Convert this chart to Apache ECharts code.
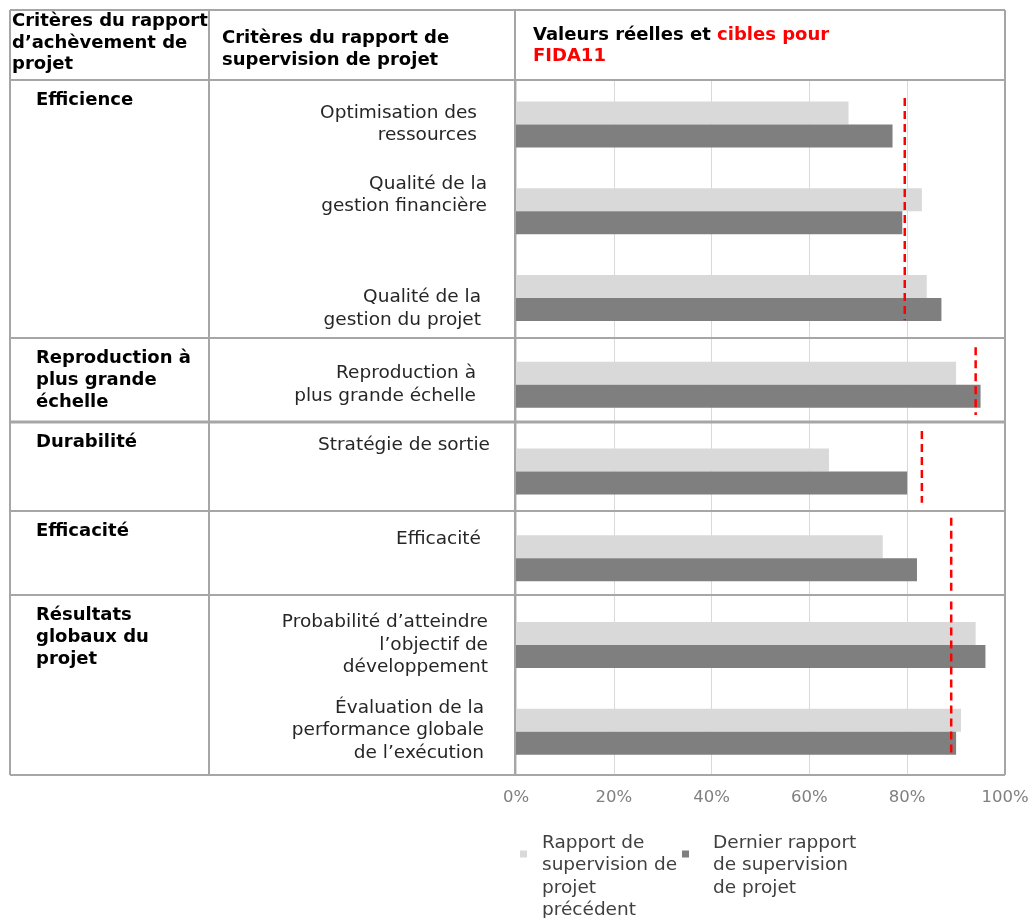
<!DOCTYPE html>
<html><head><meta charset="utf-8">
<script src="https://cdn.jsdelivr.net/npm/echarts@6/dist/echarts.min.js"></script>
<style>html,body{margin:0;padding:0;background:#fff}#c{width:1032px;height:918px}</style>
</head><body><div id="c"></div>
<script>
// ---- data ----
const categories = [
  'Optimisation des\nressources',
  'Qualité de la\ngestion financière',
  'Qualité de la\ngestion du projet',
  'Reproduction à\nplus grande échelle',
  'Stratégie de sortie',
  'Efficacité',
  'Probabilité d’atteindre\nl’objectif de\ndéveloppement',
  'Évaluation de la\nperformance globale\nde l’exécution'
];
const previousReport = [68, 83, 84, 90, 64, 75, 94, 91];
const latestReport   = [77, 79, 87, 95, 80, 82, 96, 90];
const groupNames = ['Efficience', 'Reproduction à\nplus grande\néchelle', 'Durabilité', 'Efficacité', 'Résultats\nglobaux du\nprojet'];
const groupFirst = [0, 3, 4, 5, 6];
const groupLast  = [2, 3, 4, 5, 7];
const targets    = [79.5, 94, 83, 89, 89];
const xTickStep = 20;
const seriesNames = ['Rapport de\nsupervision de\nprojet\nprécédent', 'Dernier rapport\nde supervision\nde projet'];
const headerCol1 = 'Critères du rapport\nd’achèvement de\nprojet';
const headerCol2 = 'Critères du rapport de\nsupervision de projet';
const headerCol3a = 'Valeurs réelles et ';
const headerCol3b = 'cibles pour';
const headerCol3c = 'FIDA11';

// ---- layout / style (not data) ----
const FONT = 'DejaVu Sans';
const tableCols = [10, 209, 515, 1005];
const tableRows = [10, 80, 338, 422, 511, 595, 775];
const labelPadRight = [13, 3, 9, 14, 0, 9, 2, 6];
const labelShiftY = [0, -16, 11, 0, -26, -19, 0, -1]; // vertical nudge of axis labels (px)
const targetInset = [[17, 21], [6, 13], [3, 12], [3, 6], [0, 18]];
const legendLeadLines = [2, 1];

const chart = echarts.init(document.getElementById('c'), null, {renderer: 'canvas'});

const yData = categories.map((c, i) => ({
  value: c,
  textStyle: { padding: [0, labelPadRight[i], 0, 0] }
}));

// rich spacer styles for label nudges
const labelRich = {};
labelShiftY.forEach((s, i) => {
  if (s !== 0) labelRich['s' + i] = { fontSize: 2, lineHeight: Math.abs(s) * 2, fontFamily: FONT };
});

const graphics = [];
const lineStyle = { stroke: '#a6a6a6', lineWidth: 2 };
tableCols.forEach(x => graphics.push({ type: 'line', z: 50, shape: { x1: x, y1: tableRows[0], x2: x, y2: tableRows[tableRows.length - 1] }, style: lineStyle }));
tableRows.forEach((y, i) => graphics.push({ type: 'line', z: 50, shape: { x1: tableCols[0], y1: y, x2: tableCols[tableCols.length - 1], y2: y }, style: { stroke: '#a6a6a6', lineWidth: i === 3 ? 3 : 2 } }));
groupNames.forEach((g, i) => graphics.push({
  type: 'text', z: 50, left: 36, top: tableRows[i + 1] + 9,
  style: { text: g, font: 'bold 18px ' + FONT, fill: '#000', lineHeight: 22 }
}));
graphics.push({ type: 'text', z: 50, left: 12, top: 11, style: { text: headerCol1, font: 'bold 18px ' + FONT, fill: '#000', lineHeight: 21.5 } });
graphics.push({ type: 'text', z: 50, left: 222, top: 28, style: { text: headerCol2, font: 'bold 18px ' + FONT, fill: '#000', lineHeight: 21.5 } });
graphics.push({ type: 'text', z: 50, left: 533, top: 26, style: {
  text: '{k|' + headerCol3a + '}{r|' + headerCol3b + '}\n{r|' + headerCol3c + '}',
  font: 'bold 18px ' + FONT,
  rich: {
    k: { fill: '#000', font: 'bold 18px ' + FONT, lineHeight: 21.5 },
    r: { fill: '#ff0000', font: 'bold 18px ' + FONT, lineHeight: 21.5 }
  }
} });

const legendBase = {
  orient: 'vertical', icon: 'rect', itemWidth: 7, itemHeight: 7, padding: 0, selectedMode: false
};
const LH = 22.5;

chart.setOption({
  animation: false,
  backgroundColor: '#fff',
  grid: { left: 516, right: 27, top: 81, bottom: 143, containLabel: false },
  xAxis: {
    type: 'value', min: 0, max: 100, interval: xTickStep,
    axisLine: { show: false }, axisTick: { show: false },
    splitLine: { show: true, lineStyle: { color: '#d9d9d9', width: 1 } },
    axisLabel: { formatter: '{value}%', color: '#7f7f7f', fontFamily: FONT, fontSize: 16.5, margin: 14 }
  },
  yAxis: {
    type: 'category', inverse: true, data: yData,
    axisLine: { show: false }, axisTick: { show: false },
    axisLabel: {
      color: '#262626', fontFamily: FONT, fontSize: 18.5, lineHeight: LH, margin: 26, align: 'right',
      rich: labelRich,
      formatter: function (value, index) {
        const s = labelShiftY[index];
        if (s < 0) return value + '\n{s' + index + '| }';
        if (s > 0) return '{s' + index + '| }\n' + value;
        return value;
      }
    }
  },
  legend: [
    Object.assign({}, legendBase, {
      data: [{ name: seriesNames[0] }], left: 520, top: 854 - (4 + legendLeadLines[0]) * LH / 2,
      formatter: n => '\n'.repeat(legendLeadLines[0]) + n,
      textStyle: { fontFamily: FONT, fontSize: 18.5, lineHeight: LH, color: '#404040', padding: [0, 0, 0, 10] }
    }),
    Object.assign({}, legendBase, {
      data: [{ name: seriesNames[1] }], left: 682, top: 854 - (3 + legendLeadLines[1]) * LH / 2,
      formatter: n => '\n'.repeat(legendLeadLines[1]) + n,
      textStyle: { fontFamily: FONT, fontSize: 18.5, lineHeight: LH, color: '#404040', padding: [0, 0, 0, 19] }
    })
  ],
  series: [
    { type: 'bar', name: seriesNames[0], data: previousReport, barWidth: 23, barGap: '0%', itemStyle: { color: '#d9d9d9' } },
    { type: 'bar', name: seriesNames[1], data: latestReport, barWidth: 23, barGap: '0%', itemStyle: { color: '#7f7f7f' } },
    {
      type: 'custom', name: 'cibles', silent: true, z: 10,
      data: targets.map((t, i) => [t, groupFirst[i], groupLast[i]]),
      encode: { x: 0, y: [1, 2] },
      renderItem: function (params, api) {
        const i = params.dataIndex;
        const a = api.coord([api.value(0), api.value(1)]);
        const b = api.coord([api.value(0), api.value(2)]);
        const band = api.size([0, 1])[1];
        return {
          type: 'line',
          shape: { x1: a[0], y1: a[1] - band / 2 + targetInset[i][0], x2: b[0], y2: b[1] + band / 2 - targetInset[i][1] },
          style: { stroke: '#ff0000', lineWidth: 2.5, lineDash: [8, 5] }
        };
      }
    }
  ],
  graphic: graphics
});
</script>
</body></html>
